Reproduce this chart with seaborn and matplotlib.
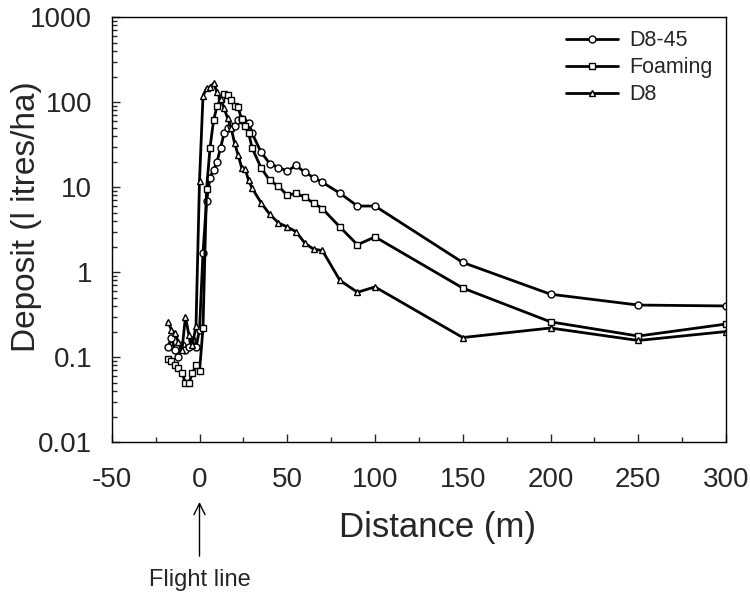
import matplotlib
matplotlib.use('Agg')
import matplotlib.pyplot as plt
import matplotlib.ticker as mticker
import seaborn as sns
import pandas as pd

# distance along the swath (m)
x_near = [-18, -16, -14, -12, -10, -8, -6, -4, -2, 0, 2, 4, 6, 8, 10, 12, 14, 16, 18, 20,
          22, 24, 26, 28, 30, 35, 40, 45, 50, 55, 60, 65, 70, 80, 90, 100, 150, 200, 250, 300]

# deposit (litres/ha)
d8_45 = [0.13, 0.17, 0.12, 0.10, 0.14, 0.12, 0.13, 0.16, 0.13, 0.21, 1.7, 6.8, 13, 16, 20, 29, 43, 50, 52, 53,
         61, 63, 57, 57, 43, 26, 19, 17, 15.5, 18, 15, 13, 11.4, 8.5, 6.0, 6.0, 1.3, 0.55, 0.41, 0.40]
foaming = [0.095, 0.09, 0.08, 0.074, 0.065, 0.05, 0.05, 0.065, 0.08, 0.068, 0.22, 9.4, 29, 61, 90, 108, 125, 120, 105, 90,
           87, 63, 52, 43, 29, 17, 12, 10.3, 8, 8.5, 7.6, 6.5, 5.6, 3.4, 2.1, 2.6, 0.65, 0.26, 0.177, 0.245]
d8 = [0.26, 0.21, 0.19, 0.15, 0.12, 0.30, 0.18, 0.14, 0.23, 11.8, 118, 146, 150, 167, 131, 110, 85, 65, 50, 33,
      24, 17, 16.5, 12, 9.7, 6.6, 4.8, 3.8, 3.4, 3.0, 2.2, 1.86, 1.8, 0.8, 0.58, 0.67, 0.17, 0.22, 0.157, 0.2]

series = [('D8-45', d8_45, 'o'), ('Foaming', foaming, 's'), ('D8', d8, '^')]

sns.set_style('ticks')
plt.rcParams['font.family'] = ['Liberation Sans', 'DejaVu Sans']
plt.rcParams['axes.unicode_minus'] = False

fig = plt.figure(figsize=(7.5, 5.95), dpi=100)
ax = fig.add_axes([0.149, 0.257, 0.819, 0.714])

for name, vals, mk in series:
    df = pd.DataFrame({'x': x_near, 'y': vals})
    sns.lineplot(data=df, x='x', y='y', ax=ax, color='black', linewidth=2.0,
                 marker=mk, markersize=5, markerfacecolor='white',
                 markeredgecolor='black', markeredgewidth=1.0, label=name)

ax.set_yscale('log')
ax.set_ylim(0.01, 1000)
ax.set_xlim(-50, 300)
ax.xaxis.set_major_locator(mticker.MultipleLocator(50))
ax.xaxis.set_minor_locator(mticker.MultipleLocator(25))
ax.yaxis.set_major_locator(mticker.LogLocator(base=10, numticks=10))
ax.yaxis.set_minor_locator(mticker.LogLocator(base=10, subs=range(2, 10), numticks=10))
ax.yaxis.set_major_formatter(mticker.FuncFormatter(lambda v, p: '%g' % v))
ax.yaxis.set_minor_formatter(mticker.NullFormatter())

ax.tick_params(which='both', direction='in', labelsize=20, width=1)
ax.tick_params(which='major', length=6)
ax.tick_params(which='minor', length=3.5)
ax.tick_params(axis='x', pad=18)
ax.tick_params(axis='y', pad=14)
for s in ax.spines.values():
    s.set_linewidth(1.0)
    s.set_color('black')

ax.set_xlabel('Distance (m)', fontsize=25)
ax.xaxis.set_label_coords(0.53, -0.2)
ax.xaxis.label.set_va('center')
ax.set_ylabel('Deposit (l itres/ha)', fontsize=24)
ax.yaxis.set_label_coords(-0.114, 0.53)

leg = ax.legend(loc='upper right', frameon=False, fontsize=15.5, handlelength=2.4,
                labelspacing=0.28, handletextpad=0.55, borderaxespad=0.2)

ax.annotate('Flight line', xy=(0, -0.141), xycoords=ax.get_xaxis_transform(),
            xytext=(0, -0.325), textcoords=ax.get_xaxis_transform(),
            ha='center', va='center', fontsize=17,
            arrowprops=dict(arrowstyle='->', color='black', lw=1, shrinkA=7, shrinkB=0,
                            mutation_scale=20))

fig.savefig('out.png', dpi=100)
